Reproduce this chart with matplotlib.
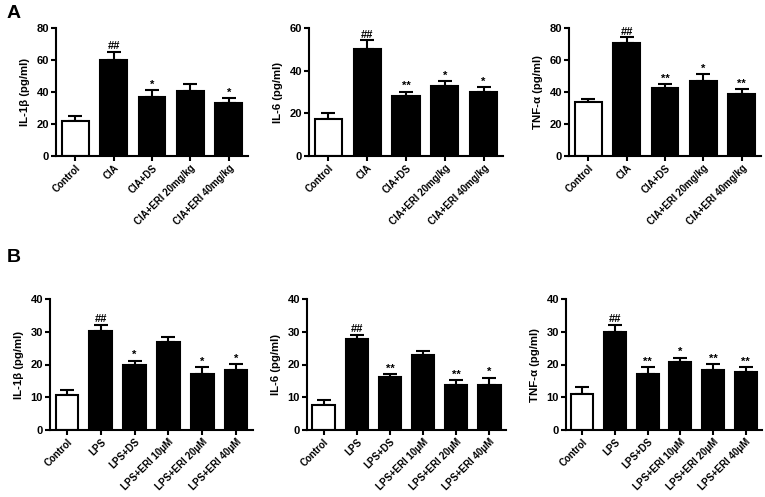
import matplotlib
matplotlib.use("Agg")
import matplotlib.pyplot as plt

plt.rcParams['font.family'] = ['Liberation Sans', 'DejaVu Sans']
plt.rcParams['font.weight'] = 'bold'

# ---- Data ----
cats_A = ["Control", "CIA", "CIA+DS", "CIA+ERI 20mg/kg", "CIA+ERI 40mg/kg"]
cats_B = ["Control", "LPS", "LPS+DS", "LPS+ERI 10\u03bcM", "LPS+ERI 20\u03bcM", "LPS+ERI 40\u03bcM"]

il1b_A = [21.9, 59.9, 37.0, 40.9, 33.0]
il1b_A_err = [3.1, 5.2, 4.1, 4.4, 3.1]
il6_A = [17.2, 50.0, 28.3, 32.9, 30.0]
il6_A_err = [2.8, 4.2, 1.9, 2.3, 2.2]
tnf_A = [33.7, 70.4, 42.7, 46.7, 38.7]
tnf_A_err = [2.1, 3.7, 2.3, 4.4, 3.0]

il1b_B = [10.6, 30.3, 19.8, 26.9, 17.2, 18.3]
il1b_B_err = [1.5, 1.8, 1.4, 1.4, 2.0, 1.9]
il6_B = [7.6, 27.8, 16.2, 22.8, 13.7, 13.7]
il6_B_err = [1.5, 1.3, 0.9, 1.3, 1.5, 2.3]
tnf_B = [11.1, 29.8, 17.2, 20.8, 18.2, 17.8]
tnf_B_err = [2.0, 2.3, 1.9, 1.3, 1.9, 1.3]

sig_A1 = ["", "##", "*", "", "*"]
sig_A2 = ["", "##", "**", "*", "*"]
sig_A3 = ["", "##", "**", "*", "**"]
sig_B1 = ["", "##", "*", "", "*", "*"]
sig_B2 = ["", "##", "**", "", "**", "*"]
sig_B3 = ["", "##", "**", "*", "**", "**"]

W, H = 765, 497
fig = plt.figure(figsize=(W / 100, H / 100), dpi=100)


def make_ax(l, r, t, b):
    return fig.add_axes([l / W, 1 - b / H, (r - l) / W, (b - t) / H])


def panel(ax, cats, vals, errs, sigs, ymax, step, ylabel, width):
    n = len(cats)
    x = list(range(n))
    colors = ['white'] + ['black'] * (n - 1)
    ax.bar(x, vals, width=width, color=colors, edgecolor='black', linewidth=1.5, zorder=2)
    ax.errorbar(x, vals, yerr=[[0] * n, errs], fmt='none', ecolor='black',
                elinewidth=1.5, capsize=5, capthick=1.5, zorder=1)
    for xi, v, e, s in zip(x, vals, errs, sigs):
        if s:
            ax.text(xi, v + e + ymax * 0.003, s, ha='center', va='bottom',
                    fontsize=8, fontweight='bold')
    ax.set_xlim(-0.5, n - 0.5)
    ax.set_ylim(0, ymax)
    ax.set_yticks(list(range(0, ymax + 1, step)))
    ax.set_xticks(x)
    ax.set_xticklabels(cats, rotation=45, ha='right', rotation_mode='anchor',
                       fontsize=7, fontweight='bold')
    for lab in ax.get_yticklabels():
        lab.set_fontsize(8)
        lab.set_fontweight('bold')
    ax.set_ylabel(ylabel, fontsize=8.2, fontweight='bold', labelpad=5)
    for sp in ['top', 'right']:
        ax.spines[sp].set_visible(False)
    for sp in ['left', 'bottom']:
        ax.spines[sp].set_linewidth(1.5)
    ax.tick_params(axis='both', direction='out', length=3.5, width=1.5, pad=1.5)


ax1 = make_ax(56, 248, 28, 156)
panel(ax1, cats_A, il1b_A, il1b_A_err, sig_A1, 80, 20, "IL-1\u03b2 (pg/ml)", 0.7)
ax2 = make_ax(309, 503, 28, 156)
panel(ax2, cats_A, il6_A, il6_A_err, sig_A2, 60, 20, "IL-6 (pg/ml)", 0.7)
ax3 = make_ax(569, 761, 28, 156)
panel(ax3, cats_A, tnf_A, tnf_A_err, sig_A3, 80, 20, "TNF-\u03b1 (pg/ml)", 0.7)

ax4 = make_ax(50, 253, 299, 430)
panel(ax4, cats_B, il1b_B, il1b_B_err, sig_B1, 40, 10, "IL-1\u03b2 (pg/ml)", 0.67)
ax5 = make_ax(307, 506, 299, 430)
panel(ax5, cats_B, il6_B, il6_B_err, sig_B2, 40, 10, "IL-6 (pg/ml)", 0.67)
ax6 = make_ax(566, 762, 299, 430)
panel(ax6, cats_B, tnf_B, tnf_B_err, sig_B3, 40, 10, "TNF-\u03b1 (pg/ml)", 0.67)

fig.text(7 / W, 1 - 13 / H, "A", fontsize=14, fontweight='bold', va='center', ha='left')
fig.text(7 / W, 1 - 258 / H, "B", fontsize=14, fontweight='bold', va='center', ha='left')

fig.savefig("out.png", dpi=100)
